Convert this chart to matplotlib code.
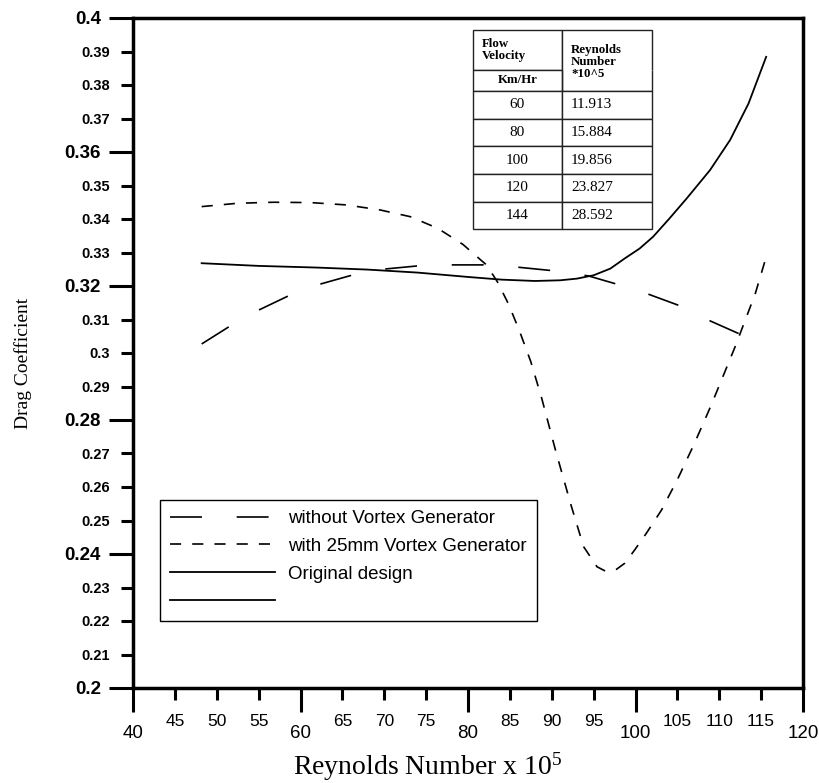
import matplotlib
matplotlib.use("Agg")
import matplotlib.pyplot as plt
from matplotlib.lines import Line2D
from matplotlib.table import Table
from matplotlib import font_manager

# ---- data -----------------------------------------------------------------
re_without = [48.2, 51.5, 55.0, 58.6, 62.4, 66.1, 70.2, 74.0, 78.2, 82.0,
              86.0, 90.0, 94.4, 97.7, 101.6, 105.4, 108.9, 112.5]
cd_without = [0.3027, 0.3079, 0.3128, 0.3171, 0.3206, 0.3232, 0.3251, 0.3260,
              0.3263, 0.3263, 0.3256, 0.3246, 0.3230, 0.3206, 0.3175, 0.3140,
              0.3096, 0.3056]

re_vg25 = [48.2, 52.5, 56.8, 61.2, 65.5, 69.5, 73.1, 76.4, 79.4, 82.2, 83.5,
           84.8, 86.1, 87.5, 88.8, 90.5, 92.3, 93.8, 94.6, 95.4, 96.4, 97.6,
           98.7, 99.9, 101.3, 103.1, 105.0, 107.0, 109.0, 111.9, 114.3, 115.5]
cd_vg25 = [0.3437, 0.3447, 0.3450, 0.3449, 0.3442, 0.3427, 0.3407, 0.3372,
           0.3324, 0.3263, 0.3213, 0.3148, 0.3069, 0.2974, 0.2865, 0.2705,
           0.2546, 0.2422, 0.2392, 0.2362, 0.2349, 0.2352, 0.2372, 0.2412,
           0.2462, 0.2531, 0.2622, 0.2728, 0.2842, 0.3019, 0.3177, 0.3278]

re_orig = [48.2, 55.0, 62.0, 68.0, 74.0, 80.0, 84.0, 88.0, 91.0, 93.0, 95.0,
           97.0, 98.7, 100.5, 102.1, 104.0, 106.1, 108.9, 111.3, 113.5, 115.6]
cd_orig = [0.3268, 0.3260, 0.3255, 0.3249, 0.3240, 0.3227, 0.3219, 0.3215,
           0.3217, 0.3222, 0.3232, 0.3252, 0.3282, 0.3312, 0.3347, 0.3400,
           0.3461, 0.3546, 0.3636, 0.3745, 0.3884]

series_labels = ["without Vortex Generator", "with 25mm Vortex Generator",
                 "Original design", ""]

velocity_kmh = [60, 80, 100, 120, 144]
reynolds_e5 = [11.913, 15.884, 19.856, 23.827, 28.592]

x_major = [40, 60, 80, 100, 120]
x_minor = [45, 50, 55, 65, 70, 75, 85, 90, 95, 105, 110, 115]
y_major = [0.20, 0.24, 0.28, 0.32, 0.36, 0.40]
y_minor = [0.21, 0.22, 0.23, 0.25, 0.26, 0.27, 0.29, 0.30, 0.31,
           0.33, 0.34, 0.35, 0.37, 0.38, 0.39]

# ---- style ----------------------------------------------------------------
plt.rcParams["font.family"] = ["Liberation Sans", "DejaVu Sans"]
plt.rcParams["lines.scale_dashes"] = False

installed = {f.name for f in font_manager.fontManager.ttflist}
narrow = "Liberation Sans Narrow" if "Liberation Sans Narrow" in installed else "Liberation Sans"
serif = "Liberation Serif"

fig = plt.figure(figsize=(8.19, 7.83), dpi=100)
ax = fig.add_axes([133 / 819, 95 / 783, 670 / 819, 670 / 783])
ax.set_xlim(40, 120)
ax.set_ylim(0.2, 0.4)

l1, = ax.plot(re_without, cd_without, color="black", lw=1.2, linestyle=(0, (23, 25)))
l2, = ax.plot(re_vg25, cd_vg25, color="black", lw=1.2, linestyle=(0, (8, 8)))
l3, = ax.plot(re_orig, cd_orig, color="black", lw=1.3)
l4 = Line2D([], [], color="black", lw=1.3)

# ---- axes frame and ticks ---------------------------------------------------
for sp in ax.spines.values():
    sp.set_linewidth(2.5)

ax.set_xticks(x_major, [f"{v:g}" for v in x_major], fontsize=13.5)
ax.set_xticks(x_minor, [f"{v:g}" for v in x_minor], minor=True,
              fontsize=12.5, fontfamily=narrow)
ax.set_yticks(y_major, [f"{v:g}" for v in y_major], fontsize=13.5, fontweight="bold")
ax.set_yticks(y_minor, [f"{v:g}" for v in y_minor], minor=True,
              fontsize=10.5, fontweight="bold")

ax.tick_params(which="major", direction="out", length=17, width=2.2)
ax.tick_params(which="minor", direction="out", length=8.5, width=2.2)
ax.tick_params(axis="x", which="major", pad=10)
ax.tick_params(axis="x", which="minor", pad=10)
ax.tick_params(axis="y", which="major", pad=6)
ax.tick_params(axis="y", which="minor", pad=8)

ax.set_xlabel("Reynolds Number x $\\mathregular{10^5}$", fontfamily=serif,
              fontsize=20, va="baseline")
ax.xaxis.set_label_coords(0.440, -0.1295)
ax.text(-0.1640, 0.485, "Drag Coefficient", transform=ax.transAxes,
        rotation=90, ha="center", va="center", fontfamily=serif, fontsize=14)

# ---- legend ---------------------------------------------------------------
leg = ax.legend([l1, l2, l3, l4], series_labels, loc="upper left",
                bbox_to_anchor=(0.0403, 0.2806), borderaxespad=0,
                fontsize=13.5, handlelength=5.6, handletextpad=0.7,
                labelspacing=0.56, borderpad=0.55, frameon=True,
                fancybox=False, edgecolor="black", framealpha=1)
leg.get_frame().set_linewidth(1.0)

# ---- velocity / Reynolds number table ---------------------------------------
tb = Table(ax, bbox=[0.507, 0.6846, 0.2672, 0.2975])
col_w = 0.5
head_h = [40, 21]
row_h = 27.7

def style(cell, size, weight="normal"):
    t = cell.get_text()
    t.set_fontfamily(serif)
    t.set_fontsize(size)
    t.set_fontweight(weight)
    t.set_linespacing(1.0)
    cell.set_linewidth(1.0)
    cell.set_edgecolor("#222222")

c = tb.add_cell(0, 0, col_w, head_h[0], text="Flow\nVelocity", loc="left", facecolor="white")
style(c, 9.3, "bold")
c = tb.add_cell(0, 1, col_w, head_h[0], text="", loc="left", facecolor="white")
style(c, 9.3, "bold")
c.visible_edges = "TLR"
c = tb.add_cell(1, 0, col_w, head_h[1], text="Km/Hr", loc="center", facecolor="white")
style(c, 9.3, "bold")
c = tb.add_cell(1, 1, col_w, head_h[1], text="Reynolds\nNumber\n*10^5", loc="left", facecolor="white")
style(c, 9.3, "bold")
c.get_text().set_va("bottom")
c.visible_edges = "BLR"

for i, (v, r) in enumerate(zip(velocity_kmh, reynolds_e5)):
    c = tb.add_cell(i + 2, 0, col_w, row_h, text=f"{v}", loc="center", facecolor="white")
    style(c, 11)
    c = tb.add_cell(i + 2, 1, col_w, row_h, text=f"{r:.3f}", loc="left", facecolor="white")
    style(c, 11)

tb.auto_set_font_size(False)
ax.add_table(tb)

fig.savefig("out.png", dpi=100)
